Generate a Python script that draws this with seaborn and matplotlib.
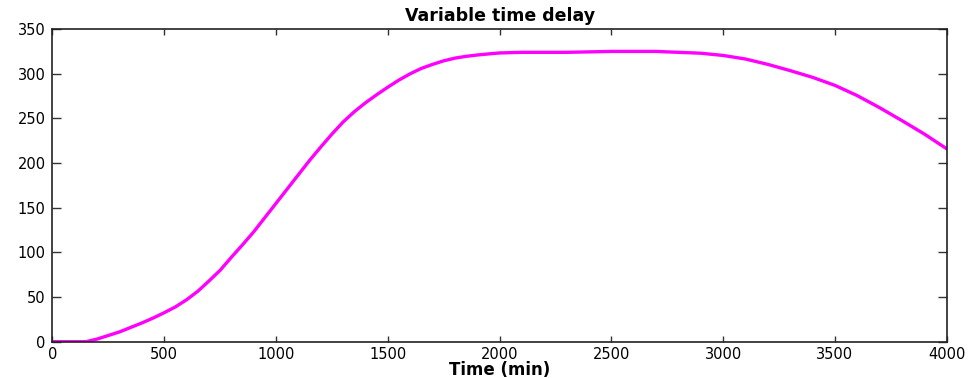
import numpy as np
import pandas as pd
import matplotlib
matplotlib.use("Agg")
import matplotlib.pyplot as plt
import seaborn as sns

# Delay profile over the run (minutes -> delay value)
time_min = [0, 100, 150, 200, 250, 300, 350, 400, 450, 500, 550, 600, 650,
            700, 750, 800, 850, 900, 950, 1000, 1050, 1100, 1150, 1200,
            1250, 1300, 1350, 1400, 1450, 1500, 1550, 1600, 1650, 1700,
            1750, 1800, 1850, 1900, 1950, 2000, 2100, 2200, 2300, 2400,
            2500, 2600, 2700, 2800, 2900, 3000, 3100, 3200, 3300, 3400,
            3500, 3600, 3700, 3800, 3900, 4000]
delay = [0, 0, 0, 3, 7, 11, 16, 21, 26.5, 32.5, 39, 47, 56.5,
         68, 80, 94.5, 108.5, 123, 139, 155, 171, 187, 203, 218,
         232.5, 246, 257.5, 267.5, 276.5, 285, 293, 300, 306, 310.5,
         314.5, 317.5, 319.5, 321, 322.2, 323.3, 324, 324, 324, 324.5,
         325, 325, 325, 324, 323, 320.5, 316.5, 310.5, 303.5, 296,
         287, 275.5, 262, 247.5, 232.5, 216]

x_ticks = [0, 500, 1000, 1500, 2000, 2500, 3000, 3500, 4000]
y_ticks = [0, 50, 100, 150, 200, 250, 300, 350]

df = pd.DataFrame({"Time (min)": time_min, "delay": delay})

sns.set_style("ticks")
plt.rcParams["font.family"] = ["DejaVu Sans"]
plt.rcParams["text.color"] = "black"
plt.rcParams["xtick.direction"] = "in"
plt.rcParams["ytick.direction"] = "in"

fig = plt.figure(figsize=(9.72, 3.78), dpi=100)
ax = fig.add_axes([0.054, 0.096, 0.920, 0.827])

sns.lineplot(data=df, x="Time (min)", y="delay", ax=ax,
             color="#ff00ff", linewidth=2.4)

ax.set_xlim(0, 4000)
ax.set_ylim(0, 350)
ax.set_xticks(x_ticks)
ax.set_yticks(y_ticks)
ax.tick_params(axis="x", which="major", length=4, width=1, color="#333333",
               labelsize=10.5, pad=4, top=True, labelcolor="black")
ax.tick_params(axis="y", which="major", length=6.5, width=1, color="#333333",
               labelsize=10.5, pad=5, right=True, labelcolor="black")
for side in ["top", "right", "bottom", "left"]:
    ax.spines[side].set_visible(True)
    ax.spines[side].set_color("#222222")
    ax.spines[side].set_linewidth(1.2)

ax.set_title("Variable time delay", fontsize=12.5, fontweight="bold",
             pad=6, color="black")
ax.set_xlabel("Time (min)", fontsize=12, fontweight="bold", labelpad=-1,
              color="black")
ax.set_ylabel("")

fig.savefig("out.png", dpi=100)
